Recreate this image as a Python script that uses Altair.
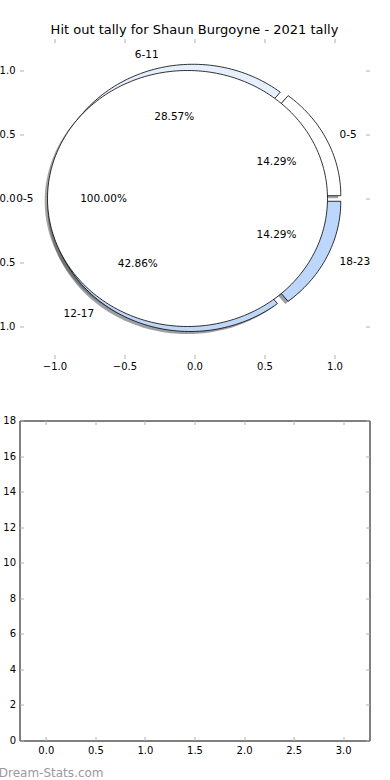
import math
import altair as alt
import pandas as pd

# ---------------- data ----------------
title_text = "Hit out tally for Shaun Burgoyne - 2021 tally"
outer_labels = ["0-5", "6-11", "12-17", "18-23"]
outer_counts = [1, 2, 3, 1]
outer_colors = ["#ffffff", "#e6effc", "#c0d8f8", "#bcd7fb"]
inner_labels = ["0-5"]
inner_counts = [1]
inner_colors = ["#ffffff"]
bottom_x = [0, 1, 2, 3]
bottom_vals = [0, 0, 0, 0]
top_ticks = [-1.0, -0.5, 0.0, 0.5, 1.0]
bottom_xticks = [0.0, 0.5, 1.0, 1.5, 2.0, 2.5, 3.0]
bottom_yticks = [0, 2, 4, 6, 8, 10, 12, 14, 16, 18]
watermark = "Dream-Stats.com"

# ---------------- style constants ----------------
EXPLODE = 0.05
SHADOW_DX, SHADOW_DY = -0.02, -0.02
LABEL_DIST = 1.1
PCT_DIST = 0.6
FONT = "DejaVu Sans"
TICK_GREY = "#b0b0b0"


def shade(hex_color):
    r = int(hex_color[1:3], 16) * 0.3
    g = int(hex_color[3:5], 16) * 0.3
    b = int(hex_color[5:7], 16) * 0.3
    return "#%02x%02x%02x" % (int(r), int(g), int(b))


def build(labels, counts, colors, ring):
    total = float(sum(counts))
    polys, shadows, texts = [], [], []
    start = 0.0
    for j, (lab, c, col) in enumerate(zip(labels, counts, colors)):
        frac = c / total
        t1, t2 = start, start + 360.0 * frac
        start = t2
        mid = math.radians((t1 + t2) / 2.0)
        cx, cy = EXPLODE * math.cos(mid), EXPLODE * math.sin(mid)
        full = frac > 0.999999
        n = max(int(240 * frac), 8)
        pts = []
        if not full:
            pts.append((cx, cy))
        for k in range(n + 1):
            a = math.radians(t1 + (t2 - t1) * k / n)
            pts.append((cx + math.cos(a), cy + math.sin(a)))
        if not full:
            pts.append((cx, cy))
        wid = f"{ring}-{j}"
        for i, (px, py) in enumerate(pts):
            polys.append({"wid": wid, "i": i, "x": px, "y": py, "fill": col})
            shadows.append({"wid": wid, "i": i, "x": px + SHADOW_DX,
                            "y": py + SHADOW_DY, "fill": shade(col)})
        lx = (EXPLODE + LABEL_DIST) * math.cos(mid)
        ly = (EXPLODE + LABEL_DIST) * math.sin(mid)
        texts.append({"x": lx, "y": ly, "text": lab,
                      "align": "left" if lx > 0 else "right"})
        texts.append({"x": (EXPLODE + PCT_DIST) * math.cos(mid),
                      "y": (EXPLODE + PCT_DIST) * math.sin(mid),
                      "text": "%.2f%%" % (100.0 * frac), "align": "center"})
    return polys, shadows, texts


op, osh, otx = build(outer_labels, outer_counts, outer_colors, "outer")
ip, ish, itx = build(inner_labels, inner_counts, inner_colors, "inner")

outer_df = pd.DataFrame(op)
inner_df = pd.DataFrame(ip)
shadow_df = pd.DataFrame(osh + ish)
text_df = pd.DataFrame(otx + itx)

xs = alt.Scale(domain=[-1.25, 1.25], nice=False, zero=False)
ys = alt.Scale(domain=[-1.25, 1.25], nice=False, zero=False)


def ax(orient, values, fmt, labels=True, pad=3):
    kw = dict(orient=orient, values=values, offset=-4, tickSize=4,
              tickColor=TICK_GREY, tickWidth=1, domain=False, grid=False,
              labels=labels, title="", labelFont=FONT, labelFontSize=10,
              labelColor="black", labelPadding=pad)
    if fmt:
        kw["format"] = fmt
    return alt.Axis(**kw)


shadow_layer = alt.Chart(shadow_df).mark_line(
    strokeOpacity=0, fillOpacity=0.5, interpolate="linear-closed"
).encode(
    x=alt.X("x:Q", scale=xs, axis=ax("bottom", top_ticks, ".1f")),
    y=alt.Y("y:Q", scale=ys, axis=ax("left", top_ticks, ".1f", pad=4.5)),
    order=alt.Order("i:Q"),
    detail=alt.Detail("wid:N"),
    fill=alt.Fill("fill:N", scale=None),
)

outer_layer = alt.Chart(outer_df).mark_line(
    stroke="black", strokeWidth=0.8, interpolate="linear-closed"
).encode(
    x=alt.X("x:Q", scale=xs, axis=ax("top", top_ticks, ".1f", labels=False)),
    y=alt.Y("y:Q", scale=ys, axis=ax("right", top_ticks, ".1f", labels=False)),
    order=alt.Order("i:Q"),
    detail=alt.Detail("wid:N"),
    fill=alt.Fill("fill:N", scale=None),
)

inner_layer = alt.Chart(inner_df).mark_line(
    stroke="black", strokeWidth=0.8, interpolate="linear-closed"
).encode(
    x=alt.X("x:Q", scale=xs, axis=None),
    y=alt.Y("y:Q", scale=ys, axis=None),
    order=alt.Order("i:Q"),
    detail=alt.Detail("wid:N"),
    fill=alt.Fill("fill:N", scale=None),
)

tl = []
for al in ["left", "right", "center"]:
    sub = text_df[text_df["align"] == al]
    tl.append(alt.Chart(sub).mark_text(
        font=FONT, fontSize=10.5, color="black", baseline="middle", align=al
    ).encode(
        x=alt.X("x:Q", scale=xs, axis=None),
        y=alt.Y("y:Q", scale=ys, axis=None),
        text="text:N",
    ))

top = alt.layer(shadow_layer, outer_layer, inner_layer, *tl).resolve_axis(
    x="independent", y="independent"
).properties(
    width=350, height=320,
    title=alt.TitleParams(title_text, font=FONT, fontSize=13,
                          fontWeight="normal", color="black",
                          anchor="middle", offset=1.5),
    view=alt.ViewBackground(stroke="transparent"),
)

# ---------------- bottom panel ----------------
bdf = pd.DataFrame({"x": bottom_x, "v": bottom_vals})
bxs = alt.Scale(domain=[-0.215, 3.215], nice=False, zero=False)
bys = alt.Scale(domain=[0, 18], nice=False)

b1 = alt.Chart(bdf).mark_bar(size=0, strokeOpacity=0).encode(
    x=alt.X("x:Q", scale=bxs, axis=ax("bottom", bottom_xticks, ".1f", pad=5)),
    y=alt.Y("v:Q", scale=bys, axis=ax("left", bottom_yticks, "d", pad=4)),
)
b2 = alt.Chart(bdf).mark_bar(size=0, strokeOpacity=0).encode(
    x=alt.X("x:Q", scale=bxs, axis=ax("top", bottom_xticks, ".1f", labels=False)),
    y=alt.Y("v:Q", scale=bys, axis=ax("right", bottom_yticks, "d", labels=False)),
)

bottom = alt.layer(b1, b2).resolve_axis(
    x="independent", y="independent"
).properties(
    width=350, height=320,
    title=alt.TitleParams(watermark, orient="bottom", anchor="start",
                          dx=-4, offset=12, font=FONT, fontSize=12,
                          fontWeight="normal", color="#9a9a9a"),
    view=alt.ViewBackground(stroke="black", strokeWidth=1),
)

chart = alt.vconcat(top, bottom, spacing=62, bounds="flush").properties(
    padding={"left": -10.5, "top": 22.5, "right": 0, "bottom": 0},
    background="white",
)

chart.save("out.html", embed_options={"renderer": "svg", "actions": False})
